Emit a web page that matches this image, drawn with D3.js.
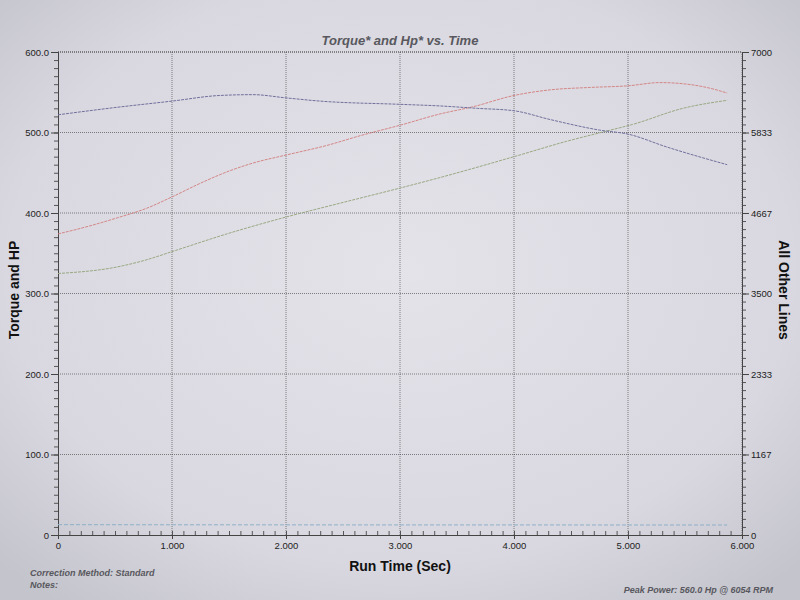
<!DOCTYPE html>
<html><head><meta charset="utf-8">
<script src="https://cdn.jsdelivr.net/npm/d3@7"></script>
<style>body{margin:0;background:#dcdce2;}svg{display:block;font-family:Arial,"Liberation Sans",sans-serif;}</style>
</head><body><svg id="c" width="800" height="600"></svg>
<script>
// ---- data ----
const xTicks = [0,1,2,3,4,5,6];
const xTickLabels = ["0","1.000","2.000","3.000","4.000","5.000","6.000"];
const leftTicks = [0,100,200,300,400,500,600];
const leftTickLabels = ["0","100.0","200.0","300.0","400.0","500.0","600.0"];
const rightTicks = [0,1167,2333,3500,4667,5833,7000];
const rightTickLabels = ["0","1167","2333","3500","4667","5833","7000"];

// Torque (left axis)
const torqueT = [0,0.5,1.0,1.42,1.71,2.0,2.3,3.0,3.35,3.68,4.0,4.32,4.75,5.0,5.34,5.87];
const torqueV = [522,531,539,546,547,543,539,535,533,530,527,516,503,498,482,460];
// Power (left axis)
const hpT = [0,0.28,0.52,0.78,1.0,1.25,1.48,1.71,2.0,2.36,2.65,3.0,3.35,3.64,4.0,4.32,4.67,5.0,5.28,5.52,5.72,5.87];
const hpV = [374,384,394,406,420,437,451,462,472,484,496,509,523,532,546,553,556,558,562,560,555,549];
// Engine RPM (right axis)
const rpmT = [0,0.52,0.78,1.0,1.48,2.0,2.47,3.0,3.35,4.0,4.46,4.82,5.04,5.48,5.87];
const rpmV = [3790,3885,3990,4107,4363,4608,4807,5028,5180,5483,5705,5857,5950,6183,6300];
// Low auxiliary line (right axis)
const auxT = [0,1,2,3,4,5,5.87];
const auxV = [150,148,147,146,146,145,145];

// ---- layout ----
const svg = d3.select("#c");
const X0=58, X1=742, Y0=535, Y1=52;
const x = d3.scaleLinear().domain([0,6]).range([X0,X1]);
const yL = d3.scaleLinear().domain([0,600]).range([Y0,Y1]);
const yR = d3.scaleLinear().domain([0,7000]).range([Y0,Y1]);

// background paper
const defs = svg.append("defs");
const rg = defs.append("radialGradient").attr("id","paper").attr("cx","50%").attr("cy","45%").attr("r","70%");
rg.append("stop").attr("offset","0%").attr("stop-color","#e4e3ea");
rg.append("stop").attr("offset","70%").attr("stop-color","#d9d8e0");
rg.append("stop").attr("offset","100%").attr("stop-color","#c4c4cc");
svg.append("rect").attr("width",800).attr("height",600).attr("fill","url(#paper)");

const gridCol = "#3a3a3a";
// horizontal gridlines
svg.append("g").selectAll("line").data(leftTicks.filter(d=>d>0)).join("line")
  .attr("x1",X0).attr("x2",X1).attr("y1",d=>yL(d)).attr("y2",d=>yL(d))
  .attr("stroke",gridCol).attr("stroke-width",1).attr("stroke-dasharray","1,1").attr("opacity",0.6);
// vertical gridlines
svg.append("g").selectAll("line").data(xTicks.filter(d=>d>0)).join("line")
  .attr("x1",d=>x(d)).attr("x2",d=>x(d)).attr("y1",Y0).attr("y2",Y1)
  .attr("stroke",gridCol).attr("stroke-width",1).attr("stroke-dasharray","1,1").attr("opacity",0.6);

// axes
function styleAxis(g){
  g.selectAll(".domain").attr("stroke","#444").attr("stroke-width",1);
  g.selectAll(".tick line").attr("stroke","#444");
  g.selectAll("text").attr("fill","#222").style("font-size","9.5px");
}
const leftMinor = d3.range(0,601,10);
svg.append("g").attr("transform",`translate(${X0},0)`)
  .call(d3.axisLeft(yL).tickValues(leftMinor).tickSize(4).tickFormat(""))
  .call(g=>{g.selectAll(".domain").attr("stroke","#444");g.selectAll(".tick line").attr("stroke","#555");});
svg.append("g").attr("transform",`translate(${X0},0)`)
  .call(d3.axisLeft(yL).tickValues(leftTicks).tickSize(7).tickPadding(2).tickFormat((d,i)=>leftTickLabels[i]))
  .call(styleAxis);

const rightMinor = d3.range(0,7001,7000/60);
svg.append("g").attr("transform",`translate(${X1},0)`)
  .call(d3.axisRight(yR).tickValues(rightMinor).tickSize(4).tickFormat(""))
  .call(g=>{g.selectAll(".domain").attr("stroke","#444");g.selectAll(".tick line").attr("stroke","#555");});
svg.append("g").attr("transform",`translate(${X1},0)`)
  .call(d3.axisRight(yR).tickValues(rightTicks).tickSize(7).tickPadding(2).tickFormat((d,i)=>rightTickLabels[i]))
  .call(styleAxis);

const xMinor = d3.range(0,60.5,1).map(d=>d/10);
svg.append("g").attr("transform",`translate(0,${Y0})`)
  .call(d3.axisBottom(x).tickValues(xMinor).tickSize(-4).tickFormat(""))
  .call(g=>{g.selectAll(".domain").attr("stroke","#444");g.selectAll(".tick line").attr("stroke","#555");});
svg.append("g").attr("transform",`translate(0,${Y0})`)
  .call(d3.axisBottom(x).tickValues(xTicks).tickSize(4).tickPadding(3).tickFormat((d,i)=>xTickLabels[i]))
  .call(styleAxis);

// top border
svg.append("line").attr("x1",X0).attr("x2",X1).attr("y1",Y1).attr("y2",Y1)
  .attr("stroke","#444").attr("stroke-dasharray","1,1").attr("opacity",0.8);

// series
function drawLine(ts, vs, yScale, color, dash){
  const pts = ts.map((t,i)=>[t,vs[i]]);
  svg.append("path").datum(pts)
    .attr("d", d3.line().x(d=>x(d[0])).y(d=>yScale(d[1])).curve(d3.curveMonotoneX))
    .attr("fill","none").attr("stroke",color).attr("stroke-width",1).attr("stroke-dasharray",dash);
}
drawLine(auxT, auxV, yR, "#8eb0c8", "4,2");
drawLine(rpmT, rpmV, yR, "#98a882", "3,1");
drawLine(hpT, hpV, yL, "#d48686", "3,1");
drawLine(torqueT, torqueV, yL, "#70709c", "3,1");

// texts
svg.append("text").attr("x",400).attr("y",45).attr("text-anchor","middle")
  .style("font-size","13px").style("font-weight","bold").style("font-style","italic").attr("fill","#58585e")
  .text("Torque* and Hp* vs. Time");
svg.append("text").attr("transform","translate(19,290) rotate(-90)").attr("text-anchor","middle")
  .style("font-size","14px").style("font-weight","bold").attr("fill","#111").text("Torque and HP");
svg.append("text").attr("transform","translate(779,290) rotate(90)").attr("text-anchor","middle")
  .style("font-size","14px").style("font-weight","bold").attr("fill","#111").text("All Other Lines");
svg.append("text").attr("x",400).attr("y",571).attr("text-anchor","middle")
  .style("font-size","14px").style("font-weight","bold").attr("fill","#111").text("Run Time (Sec)");
svg.append("text").attr("x",30).attr("y",576)
  .style("font-size","9px").style("font-weight","bold").style("font-style","italic").attr("fill","#58585e")
  .text("Correction Method: Standard");
svg.append("text").attr("x",30).attr("y",588)
  .style("font-size","9px").style("font-weight","bold").style("font-style","italic").attr("fill","#58585e")
  .text("Notes:");
svg.append("text").attr("x",773).attr("y",593).attr("text-anchor","end")
  .style("font-size","9px").style("font-weight","bold").style("font-style","italic").attr("fill","#58585e")
  .text("Peak Power: 560.0 Hp @ 6054 RPM");
</script></body></html>
